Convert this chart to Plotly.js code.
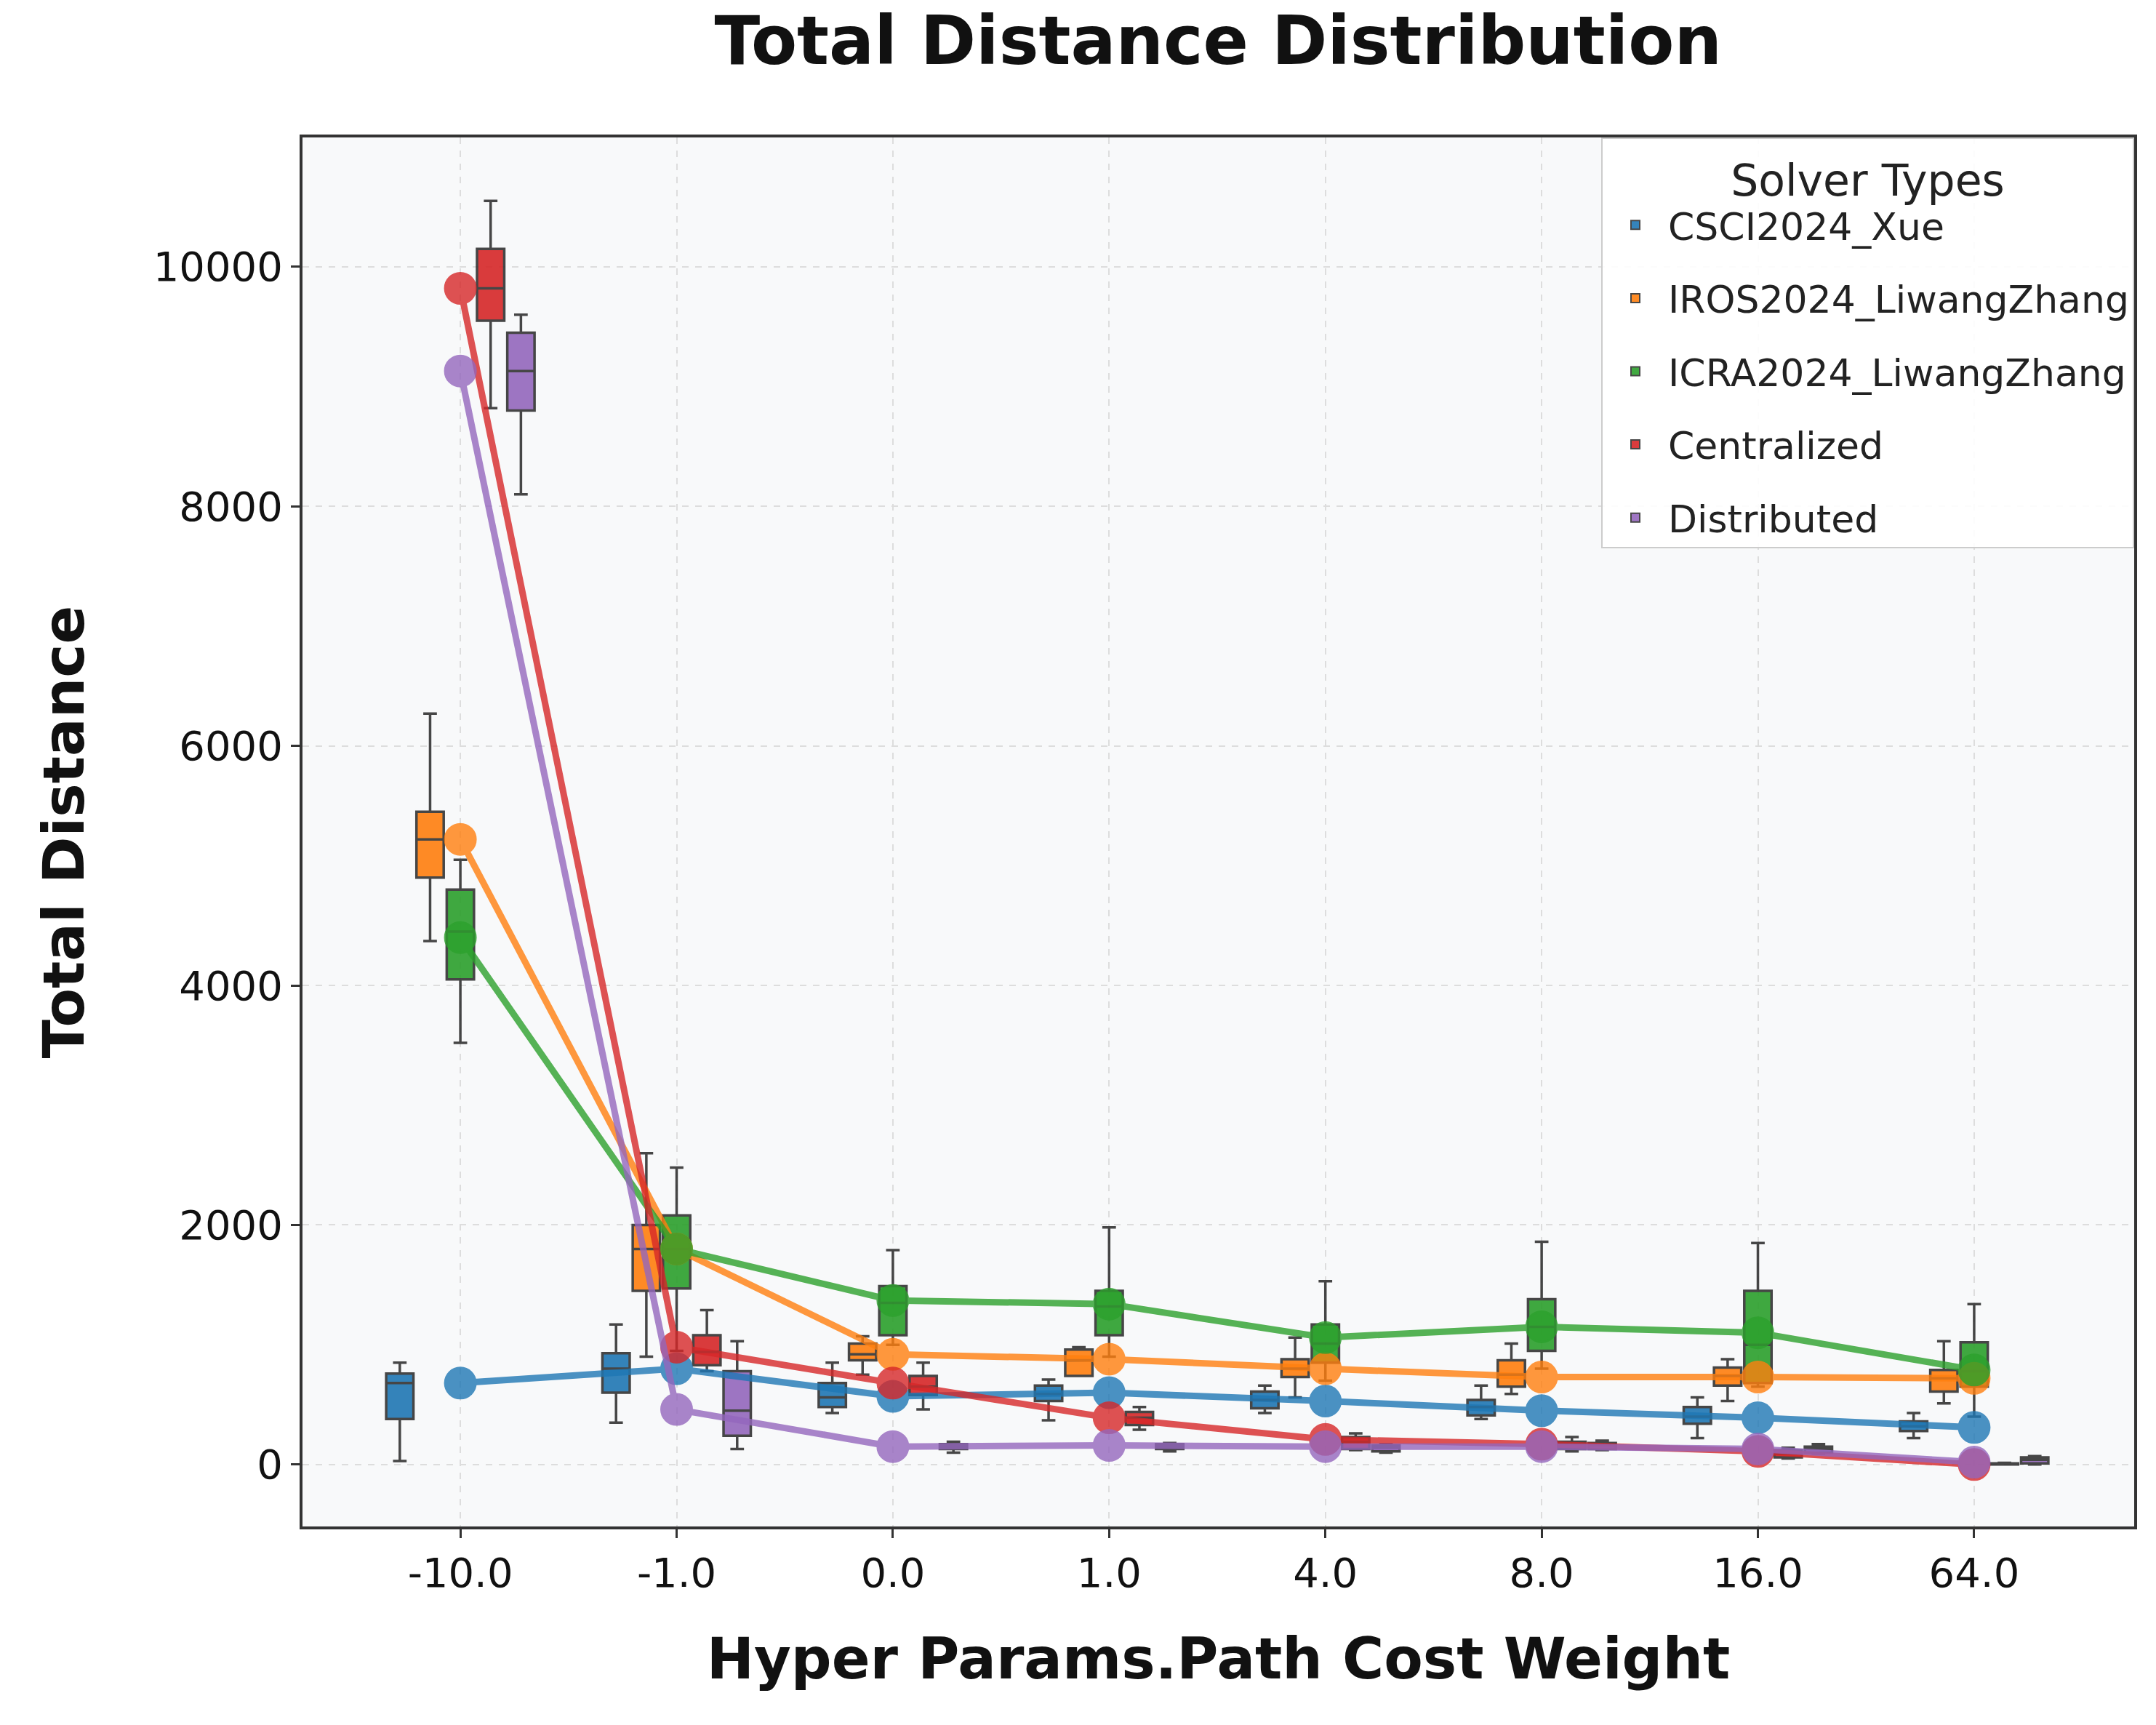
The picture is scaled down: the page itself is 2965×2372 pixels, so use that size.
<!DOCTYPE html>
<html>
<head>
<meta charset="utf-8">
<script src="https://cdn.plot.ly/plotly-3.0.1.min.js"></script>
<style>body{margin:0;background:#fff}#chart{width:2965px;height:2372px}</style>
</head>
<body>
<div id="chart"></div>
<script>
var categories = ["-10.0", "-1.0", "0.0", "1.0", "4.0", "8.0", "16.0", "64.0"];
var solvers = ["CSCI2024_Xue", "IROS2024_LiwangZhang", "ICRA2024_LiwangZhang", "Centralized", "Distributed"];
var colors = ["#1f77b4", "#ff7f0e", "#2ca02c", "#d62728", "#9467bd"];

// per solver, one value per category
var q1Data = [
  [380, 600, 480, 530, 470, 410, 340, 280],
  [4900, 1450, 870, 740, 730, 650, 660, 610],
  [4050, 1470, 1080, 1080, 850, 950, 680, 650],
  [9550, 830, 580, 330, 130, 130, 60, 0],
  [8800, 240, 130, 130, 110, 130, 100, 10]
];
var medianData = [
  [680, 800, 560, 590, 540, 480, 400, 320],
  [5220, 1800, 920, 870, 800, 750, 740, 720],
  [4450, 1800, 1350, 1320, 1010, 1150, 1000, 780],
  [9820, 940, 650, 390, 190, 170, 90, 5],
  [9130, 450, 150, 150, 140, 160, 130, 40]
];
var q3Data = [
  [760, 930, 680, 660, 610, 540, 480, 360],
  [5450, 2000, 1010, 960, 880, 870, 810, 790],
  [4800, 2080, 1490, 1450, 1170, 1380, 1450, 1020],
  [10150, 1080, 740, 440, 230, 190, 120, 10],
  [9450, 780, 170, 170, 160, 180, 150, 60]
];
var lowData = [
  [30, 350, 430, 370, 430, 380, 220, 220],
  [4370, 900, 750, 780, 560, 590, 530, 510],
  [3520, 950, 1000, 900, 700, 800, 650, 400],
  [8820, 780, 460, 290, 120, 110, 50, 0],
  [8100, 130, 100, 110, 100, 120, 90, 0]
];
var highData = [
  [850, 1170, 850, 710, 660, 660, 560, 430],
  [6270, 2600, 1070, 980, 1060, 1010, 880, 1030],
  [5050, 2480, 1790, 1980, 1530, 1860, 1850, 1340],
  [10550, 1290, 850, 480, 260, 230, 140, 15],
  [9600, 1030, 190, 180, 170, 200, 170, 70]
];
var meanData = [
  [680, 800, 570, 600, 530, 450, 390, 310],
  [5220, 1800, 920, 880, 800, 730, 730, 720],
  [4400, 1800, 1370, 1340, 1060, 1150, 1100, 790],
  [9820, 980, 680, 390, 210, 170, 110, 0],
  [9130, 460, 150, 160, 150, 150, 130, 20]
];

var traces = [];
for (var s = 0; s < solvers.length; s++) {
  traces.push({
    type: 'box', name: solvers[s], x: categories,
    q1: q1Data[s], median: medianData[s], q3: q3Data[s],
    lowerfence: lowData[s], upperfence: highData[s],
    fillcolor: colors[s], opacity: 0.9,
    line: {color: '#333333', width: 3.5}, whiskerwidth: 0.5,
    hoverinfo: 'skip', legendgroup: solvers[s]
  });
}
for (var s = 0; s < solvers.length; s++) {
  traces.push({
    type: 'scatter', mode: 'lines+markers', x: categories, y: meanData[s],
    line: {color: colors[s], width: 9}, opacity: 0.8,
    marker: {color: colors[s], size: 42, line: {color: colors[s], width: 3}},
    showlegend: false, legendgroup: solvers[s]
  });
}

var axisStyle = {
  showline: true, mirror: true, linecolor: '#333333', linewidth: 4,
  ticks: 'outside', ticklen: 12, tickwidth: 3, tickcolor: '#333333',
  gridcolor: '#dddddd', griddash: 'dash', gridwidth: 2,
  tickfont: {size: 56, color: '#111111'}, zeroline: false
};

var layout = {
  width: 2965, height: 2372,
  margin: {l: 416, r: 30, t: 189, b: 273},
  paper_bgcolor: '#ffffff', plot_bgcolor: '#f8f9fa',
  font: {family: 'DejaVu Sans', color: '#111111'},
  title: {text: '<b>Total Distance Distribution</b>', font: {size: 92, color: '#111111'}, x: 0.565, xanchor: 'center', y: 0.99, yanchor: 'top'},
  boxmode: 'group', boxgap: 0.3, boxgroupgap: 0.1,
  xaxis: Object.assign({}, axisStyle, {
    type: 'category', range: [-0.73, 7.74],
    title: {text: '<b>Hyper Params.Path Cost Weight</b>', font: {size: 78}, standoff: 60}
  }),
  yaxis: Object.assign({}, axisStyle, {
    range: [-517, 11080], dtick: 2000, tickformat: 'd',
    title: {text: '<b>Total Distance</b>', font: {size: 78}, standoff: 70}
  }),
  legend: {
    x: 1, xanchor: 'right', y: 1, yanchor: 'top',
    bgcolor: 'rgba(255,255,255,0.9)', bordercolor: '#cccccc', borderwidth: 2,
    font: {size: 52, color: '#222222'}, itemsizing: 'constant', itemwidth: 80,
    title: {text: 'Solver Types', font: {size: 60}, side: 'top center'},
    tracegroupgap: 30
  }
};

Plotly.newPlot('chart', traces, layout, {staticPlot: true});
</script>
</body>
</html>
